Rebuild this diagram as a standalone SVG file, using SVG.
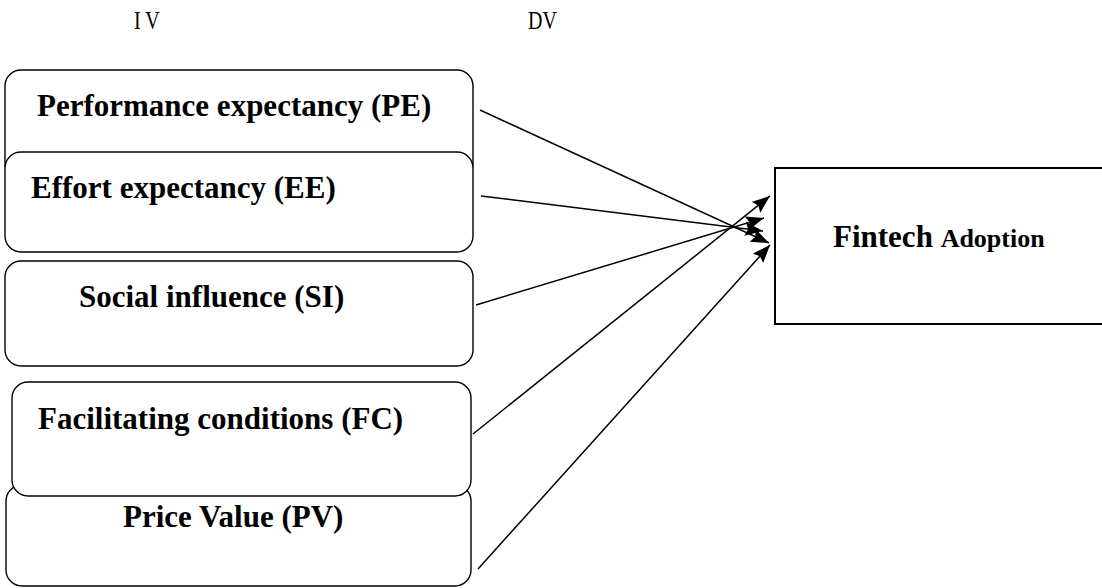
<svg xmlns="http://www.w3.org/2000/svg" width="1102" height="588" viewBox="0 0 1102 588">
<style>
.box{fill:#fff;stroke:#000;stroke-width:1.4}
.lbl{font-weight:bold;font-size:31px;fill:#000}
.hdr{font-size:20px;fill:#000}
.conn{stroke:#000;stroke-width:1.5;fill:none;marker-end:url(#ah)}
</style>
<defs>
<marker id="ah" markerUnits="userSpaceOnUse" markerWidth="22" markerHeight="16" refX="18" refY="7" orient="auto">
<path d="M0,0 L18,7 L0,14 L3,7 Z" fill="#000"/>
</marker>
</defs>
<rect width="1102" height="588" fill="#fff"/>
<g font-family="Liberation Serif, DejaVu Serif, serif">
<g transform="scale(1,1.3)">
<text class="hdr" x="134" y="22.3">I V</text>
<text class="hdr" x="528" y="22.3">DV</text>
</g>
<g id="pe"><rect class="box" x="5" y="70" width="468" height="110" rx="16"/><text class="lbl" x="37" y="116">Performance expectancy (PE)</text></g>
<g id="ee"><rect class="box" x="5" y="152" width="468" height="100" rx="16"/><text class="lbl" x="31" y="198">Effort expectancy (EE)</text></g>
<g id="si"><rect class="box" x="5" y="261" width="468" height="105" rx="16"/><text class="lbl" x="79" y="307">Social influence (SI)</text></g>
<g id="pv"><rect class="box" x="6" y="485" width="465" height="101" rx="16"/><text class="lbl" x="123" y="527">Price Value (PV)</text></g>
<g id="fc"><rect class="box" x="12" y="382" width="459" height="114" rx="16"/><text class="lbl" x="38" y="429">Facilitating conditions (FC)</text></g>
<g id="fa"><rect x="775" y="168" width="340" height="156" fill="#fff" stroke="#000" stroke-width="2"/><text class="lbl" x="833" y="247">Fintech <tspan font-size="26">Adoption</tspan></text></g>
</g>
<g id="connectors">
<line class="conn" x1="480" y1="110" x2="769" y2="243"/>
<line class="conn" x1="481" y1="196" x2="763" y2="231"/>
<line class="conn" x1="476" y1="305" x2="764" y2="218"/>
<line class="conn" x1="473" y1="434" x2="770" y2="196"/>
<line class="conn" x1="478" y1="569" x2="770" y2="245"/>
</g>
</svg>
